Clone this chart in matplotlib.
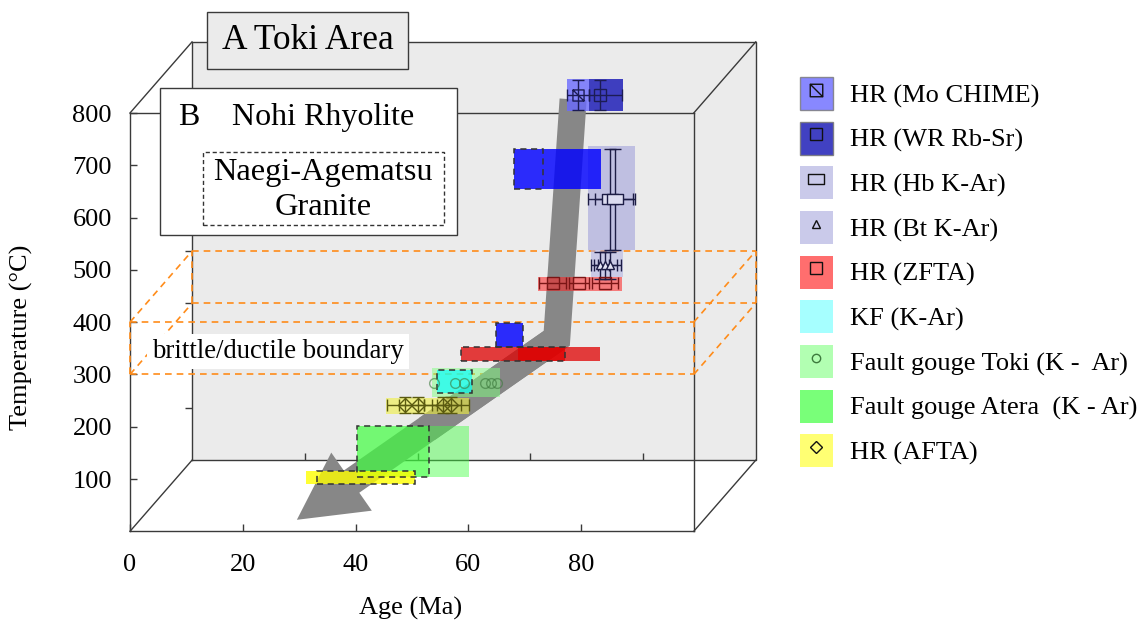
import matplotlib
matplotlib.use('Agg')
import matplotlib.pyplot as plt
from matplotlib.patches import Patch, Rectangle, FancyArrowPatch
from matplotlib.lines import Line2D
from matplotlib.path import Path
from matplotlib.legend_handler import HandlerTuple

plt.rcParams['font.family'] = ['Liberation Serif', 'DejaVu Serif']

# front face of the block (Nohi Rhyolite): age 0-100 Ma, 0-800 degC
age_max = 100
temp_max = 800
# rear face (Toki Area) sits behind, shifted by this much in data units
depth_age = 11.0
depth_temp = 136.0

age_ticks = [0, 20, 40, 60, 80]
temp_ticks = [100, 200, 300, 400, 500, 600, 700, 800]

# brittle/ductile transition band (degC)
bd_temp = [300, 400]

# cooling path (age Ma, temperature degC)
path_age = [78.6, 75.7, 29.6]
path_temp = [826, 369, 22]

# shaded ranges: (age min, age max, temp min, temp max)
mo_box = [(77.5, 81.4, 803, 865)]
rbsr_box = [(81.4, 87.5, 803, 865)]
hb_box = [(81.2, 89.6, 538, 737)]
bt_box = [(81.8, 87.5, 486, 538)]
zfta_box = [(72.4, 87.3, 459, 486)]
gr_rbsr_box = [(68.1, 83.5, 655, 731), (64.9, 69.7, 352, 398)]
gr_rbsr_dash = [(68.1, 73.3, 655, 731), (64.9, 69.7, 352, 398)]
gr_zfta_box = [(58.7, 77.2, 326, 352), (68.8, 83.4, 326, 352)]
gr_zfta_dash = [(58.7, 77.2, 326, 352)]
toki_box = [(53.6, 65.6, 257, 312)]
kf_box = [(54.5, 60.7, 265, 309)]
afta_box = [(45.4, 60.1, 224, 255)]
atera_box = [(40.3, 60.1, 104, 201), (40.3, 53.0, 104, 201)]
atera_dash = [(40.3, 53.0, 104, 201)]
gr_afta_box = [(31.2, 50.6, 90, 115)]
gr_afta_dash = [(33.2, 50.6, 90, 115)]

# single determinations with error bars
mo_age, mo_temp = [79.5], [834]
mo_age_err, mo_temp_err = [2.0], [29]
rbsr_age, rbsr_temp = [83.4], [834]
rbsr_age_err, rbsr_temp_err = [[2.0], [3.9]], [29]
hb_age, hb_temp = [85.2, 86.0], [635, 635]
hb_age_err, hb_temp_err = [4.0, 3.6], [97, 97]
bt_age, bt_temp = [83.4, 84.3, 85.1], [509, 509, 509]
bt_age_err, bt_temp_err = [1.6, 2.0, 2.0], [26, 26, 26]
zfta_age, zfta_temp = [75.0, 79.6, 84.3], [474, 474, 474]
zfta_age_err = [2.4, 1.8, 2.3]
toki_age = [53.9, 57.6, 59.3, 63.0, 64.0, 65.1]
toki_temp = [284, 284, 284, 284, 284, 284]
afta_age, afta_temp = [48.8, 51.1, 55.5, 56.9], [241, 241, 241, 241]
afta_age_err, afta_temp_err = [3.3, 3.3, 3.3, 3.3], [15, 15, 15, 15]

legend_labels = ['HR (Mo CHIME)', 'HR (WR Rb-Sr)', 'HR (Hb K-Ar)', 'HR (Bt K-Ar)',
                 'HR (ZFTA)', 'KF (K-Ar)', 'Fault gouge Toki (K -  Ar)',
                 'Fault gouge Atera  (K - Ar)', 'HR (AFTA)']

frame_c = '#3a3a3a'
orange = '#ff8c1a'
arrow_c = '#878787'

# square with a diagonal, and a flat rectangle, as marker shapes
sq_diag = Path([(-1, -1), (1, -1), (1, 1), (-1, 1), (-1, -1), (-1, 1), (1, -1)],
               [Path.MOVETO, Path.LINETO, Path.LINETO, Path.LINETO, Path.CLOSEPOLY,
                Path.MOVETO, Path.LINETO])
flat_rect = Path([(-1, -0.55), (1, -0.55), (1, 0.55), (-1, 0.55), (-1, -0.55)],
                 [Path.MOVETO, Path.LINETO, Path.LINETO, Path.LINETO, Path.CLOSEPOLY])

fig = plt.figure(figsize=(11.46, 6.24), dpi=100)
ax = fig.add_axes([0.11344, 0.14856, 0.49193, 0.67035])
ax.set_facecolor('none')


def shade(boxes, color, alpha, z=3):
    ax.bar([b[0] for b in boxes], [b[3] - b[2] for b in boxes],
           width=[b[1] - b[0] for b in boxes], bottom=[b[2] for b in boxes],
           align='edge', color=color, alpha=alpha, lw=0, zorder=z, clip_on=False)


def outline(boxes):
    ax.bar([b[0] for b in boxes], [b[3] - b[2] for b in boxes],
           width=[b[1] - b[0] for b in boxes], bottom=[b[2] for b in boxes],
           align='edge', fill=False, edgecolor='#333333', lw=1.1, ls=(0, (4, 3)),
           zorder=3.5, clip_on=False)


def points(age, temp, xerr, yerr, marker, ms, mfc, col, alpha=1):
    c = ax.errorbar(age, temp, xerr=xerr, yerr=yerr, ls='none', marker=marker, ms=ms,
                    mfc=mfc, mec=col, mew=1, ecolor=col, elinewidth=1, capsize=4,
                    capthick=1, zorder=4, alpha=alpha)
    for art in c.get_children():
        art.set_clip_on(False)


# rear face
ax.add_patch(Rectangle((depth_age, depth_temp), age_max, temp_max, fc='#ebebeb',
                       ec='none', zorder=0, clip_on=False))
ax.plot([depth_age, depth_age + age_max, depth_age + age_max, depth_age, depth_age],
        [depth_temp, depth_temp, depth_temp + temp_max, depth_temp + temp_max, depth_temp],
        color=frame_c, lw=1, zorder=1, clip_on=False)
for a, t in [(0, 0), (age_max, 0), (age_max, temp_max), (0, temp_max)]:
    ax.plot([a, a + depth_age], [t, t + depth_temp], color=frame_c, lw=1, zorder=1,
            clip_on=False)
ax.plot([a + depth_age for a in age_ticks[1:]], [depth_temp] * 4, ls='none', marker=2,
        ms=5, mew=1, color=frame_c, zorder=1, clip_on=False)
ax.plot([depth_age] * 7, [t + depth_temp for t in temp_ticks[:-1]], ls='none', marker=0,
        ms=5, mew=1, color=frame_c, zorder=1, clip_on=False)

# brittle/ductile band on both faces, joined at the corners
for da, dt in [(0, 0), (depth_age, depth_temp)]:
    for t in bd_temp:
        ax.plot([da, da + age_max], [t + dt, t + dt], color=orange, lw=1.2, ls=(0, (4, 3)),
                zorder=2, clip_on=False)
    for a in [0, age_max]:
        ax.plot([a + da, a + da], [bd_temp[0] + dt, bd_temp[1] + dt], color=orange, lw=1.2,
                ls=(0, (4, 3)), zorder=2, clip_on=False)
for a in [0, age_max]:
    for t in bd_temp:
        ax.plot([a, a + depth_age], [t, t + depth_temp], color=orange, lw=1.2,
                ls=(0, (4, 3)), zorder=2, clip_on=False)

# cooling path arrow
mid_age = (path_age[1] + path_age[2]) / 2
mid_temp = (path_temp[1] + path_temp[2]) / 2
ax.plot(path_age[:2] + [mid_age], path_temp[:2] + [mid_temp], color=arrow_c, lw=19.5,
        solid_joinstyle='miter', solid_capstyle='butt', zorder=2.5, clip_on=False)
ax.add_patch(FancyArrowPatch((path_age[1], path_temp[1]), (path_age[2], path_temp[2]),
                             arrowstyle='simple,head_length=48,head_width=51,tail_width=19.5',
                             mutation_scale=1, shrinkA=0, shrinkB=0, color=arrow_c, lw=0,
                             zorder=2.5, clip_on=False))

# shaded ranges
shade(mo_box, '#6a6aff', 0.8)
shade(rbsr_box, '#2020b8', 0.85)
shade(hb_box, '#a8a8dc', 0.65)
shade(bt_box, '#b4b4e4', 0.6)
shade(zfta_box, '#ff2020', 0.55)
shade(gr_rbsr_box, '#0000ff', 0.82)
shade(gr_zfta_box, '#e00000', 0.75)
shade(toki_box, '#80ff80', 0.5)
shade(kf_box, '#00ffff', 0.65)
shade(afta_box, '#f0f040', 0.6)
shade(atera_box, '#40ff40', 0.45)
shade(gr_afta_box, '#ffff00', 0.8)
outline(gr_rbsr_dash)
outline(gr_zfta_dash)
outline(kf_box)
outline(atera_dash)
outline(gr_afta_dash)

# individual ages
points(mo_age, mo_temp, mo_age_err, mo_temp_err, sq_diag, 8, 'none', '#1c1c55')
points(rbsr_age, rbsr_temp, rbsr_age_err, rbsr_temp_err, 's', 8, 'none', '#1c1c55')
points(hb_age, hb_temp, hb_age_err, hb_temp_err, flat_rect, 12, '#dcdcf0', '#1c1c45')
points(bt_age, bt_temp, bt_age_err, bt_temp_err, '^', 6, '#e4e4f4', '#1c1c45')
points(zfta_age, zfta_temp, zfta_age_err, None, 's', 8, 'none', '#7a1515')
points(afta_age, afta_temp, afta_age_err, afta_temp_err, 'D', 7, 'none', '#5a5a10')
ax.plot(toki_age, toki_temp, ls='none', marker='o', ms=7, mfc='none', mec='#3d7a3d',
        mew=1, alpha=0.6, zorder=4, clip_on=False)

# axes: the front face
ax.set_xlim(0, age_max)
ax.set_ylim(0, temp_max)
ax.set_xticks(age_ticks)
ax.set_yticks(temp_ticks)
for s in ax.spines.values():
    s.set_color(frame_c)
    s.set_linewidth(1)
    s.set_zorder(1.5)
ax.tick_params(direction='in', length=5, width=1, color=frame_c, labelsize=19)
ax.tick_params(axis='y', pad=13)
ax.tick_params(axis='x', pad=16)
ax.set_xlabel('Age (Ma)', fontsize=19)
ax.xaxis.set_label_coords(0.497, -0.157)
ax.set_ylabel('Temperature (°C)', fontsize=19)
ax.yaxis.set_label_coords(-0.172, 0.464)

# area title boxes
ax.add_patch(Rectangle((13.66, 884.1), 35.65, 109.0, fc='#ebebeb', ec=frame_c, lw=1,
                       zorder=6, clip_on=False))
ax.text(31.49, 938.6, 'A Toki Area', fontsize=25.5, ha='center', va='center', zorder=7)
ax.add_patch(Rectangle((5.32, 566.6), 52.68, 281.2, fc='white', ec=frame_c, lw=1,
                       zorder=6, clip_on=False))
ax.text(8.6, 792, 'B', fontsize=23, ha='left', va='center', zorder=7)
ax.text(18.1, 792, 'Nohi Rhyolite', fontsize=23, ha='left', va='center', zorder=7)
ax.add_patch(Rectangle((12.95, 585.8), 42.75, 139.6, fc='none', ec='#333333', lw=1,
                       ls=(0, (3, 2)), zorder=7, clip_on=False))
ax.text(34.2, 687, 'Naegi-Agematsu', fontsize=23.3, ha='center', va='center', zorder=7)
ax.text(34.2, 620, 'Granite', fontsize=23.3, ha='center', va='center', zorder=7)

ax.text(3.9, 344, 'brittle/ductile boundary', fontsize=19.3, ha='left', va='center', zorder=7,
        bbox=dict(boxstyle='square,pad=0.2', fc='white', ec='none'))

# legend
handles = [
    (Patch(fc='#6a6aff', alpha=0.8, ec='#777777'),
     Line2D([], [], ls='none', marker=sq_diag, ms=9, mfc='none', mec='#111111')),
    (Patch(fc='#2020b8', alpha=0.85, ec='#777777'),
     Line2D([], [], ls='none', marker='s', ms=9, mfc='none', mec='#111111')),
    (Patch(fc='#a8a8dc', alpha=0.6, ec='none'),
     Line2D([], [], ls='none', marker=flat_rect, ms=12, mfc='none', mec='#111111')),
    (Patch(fc='#a8a8dc', alpha=0.6, ec='none'),
     Line2D([], [], ls='none', marker='^', ms=6, mfc='none', mec='#111111')),
    (Patch(fc='#ff2020', alpha=0.65, ec='none'),
     Line2D([], [], ls='none', marker='s', ms=9, mfc='none', mec='#111111')),
    Patch(fc='#00ffff', alpha=0.35, ec='none'),
    (Patch(fc='#80ff80', alpha=0.6, ec='none'),
     Line2D([], [], ls='none', marker='o', ms=6, mfc='none', mec='#3d7a3d')),
    Patch(fc='#40ff40', alpha=0.7, ec='none'),
    (Patch(fc='#ffff00', alpha=0.55, ec='none'),
     Line2D([], [], ls='none', marker='D', ms=6, mfc='none', mec='#111111')),
]
fig.legend(handles, legend_labels, loc='upper left', bbox_to_anchor=(800 / 1146, 1 - 77 / 624),
           frameon=False, borderpad=0, borderaxespad=0, fontsize=19, numpoints=1,
           handlelength=1.25, handleheight=1.55, handletextpad=0.64, labelspacing=0.44,
           handler_map={tuple: HandlerTuple(ndivide=1)})

fig.savefig('out.png', dpi=100)
